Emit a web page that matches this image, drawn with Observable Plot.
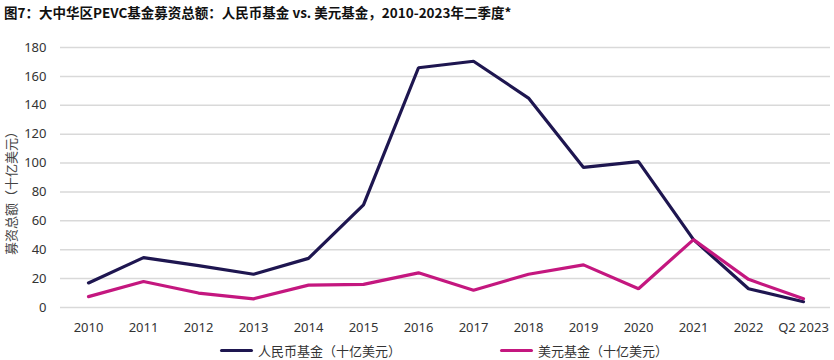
<!DOCTYPE html>
<html>
<head>
<meta charset="utf-8">
<script src="https://cdn.jsdelivr.net/npm/d3@7"></script>
<script src="https://cdn.jsdelivr.net/npm/@observablehq/plot@0.6"></script>
<style>
  body { margin: 0; background: #fff; font-family: "Noto Sans CJK SC", "Noto Sans", sans-serif; }
  #wrap { position: relative; width: 834px; height: 360px; overflow: hidden; }
  #title { position: absolute; left: 4px; top: 2px; font-size: 13.5px; font-weight: bold; color: #111; white-space: nowrap; }
  #chart { position: absolute; left: 0; top: 30px; }
  #ylab { position: absolute; left: 10px; top: 190px; transform: translate(-50%, -50%) rotate(-90deg); font-size: 13px; color: #444; white-space: nowrap; }
  .leg { position: absolute; top: 341px; font-size: 13px; color: #333; white-space: nowrap; display: flex; align-items: center; }
  .sw { display: inline-block; width: 33px; height: 3px; margin-right: 5px; border-radius: 2px; }
</style>
</head>
<body>
<div id="wrap">
  <div id="title"></div>
  <div id="ylab"></div>
  <div id="chart"></div>
  <div id="leg1" class="leg"></div>
  <div id="leg2" class="leg"></div>
</div>
<script>
const titleText = "图7：大中华区PEVC基金募资总额：人民币基金 vs. 美元基金，2010-2023年二季度*";
const yLabel = "募资总额（十亿美元）";
const categories = ["2010","2011","2012","2013","2014","2015","2016","2017","2018","2019","2020","2021","2022","Q2 2023"];
const rmbValues = [17, 34.5, 29, 23, 34, 71, 166, 170.5, 145, 97, 101, 47, 13, 4];
const usdValues = [7.5, 18, 10, 6, 15.5, 16, 24, 12, 23, 29.5, 13, 47, 19.5, 6];
const seriesNames = ["人民币基金（十亿美元）", "美元基金（十亿美元）"];
const seriesColors = ["#1e1650", "#c4177f"];
const yTicks = [0,20,40,60,80,100,120,140,160,180];

const data = [];
categories.forEach((c, i) => {
  data.push({cat: c, value: rmbValues[i], series: seriesNames[0]});
  data.push({cat: c, value: usdValues[i], series: seriesNames[1]});
});

document.getElementById("title").textContent = titleText;
document.getElementById("ylab").textContent = yLabel;

const chart = Plot.plot({
  width: 834,
  height: 312,
  marginLeft: 60,
  marginRight: 4,
  marginTop: 17,
  marginBottom: 35,
  style: { fontFamily: "'Noto Sans', 'Noto Sans CJK SC', sans-serif", fontSize: "13px", color: "#333" },
  x: { type: "point", domain: categories, padding: 0.5, label: null },
  y: { domain: [0, 180], ticks: yTicks, label: null },
  color: { domain: seriesNames, range: seriesColors },
  marks: [
    Plot.ruleY(yTicks, { stroke: "#d9d9d9", strokeWidth: 1.5 }),
    Plot.axisY(yTicks, { tickSize: 0, tickPadding: 14, label: null, fontSize: 13 }),
    Plot.axisX({ tickSize: 0, tickPadding: 15, label: null, fontSize: 13 }),
    Plot.line(data, { x: "cat", y: "value", stroke: "series", z: "series", strokeWidth: 3.2, strokeLinejoin: "miter" })
  ]
});
document.getElementById("chart").appendChild(chart);

const legPos = [220, 500];
["leg1","leg2"].forEach((id, i) => {
  const el = document.getElementById(id);
  el.style.left = legPos[i] + "px";
  const sw = document.createElement("span");
  sw.className = "sw";
  sw.style.background = seriesColors[i];
  el.appendChild(sw);
  const t = document.createElement("span");
  t.textContent = seriesNames[i];
  el.appendChild(t);
});
</script>
</body>
</html>
